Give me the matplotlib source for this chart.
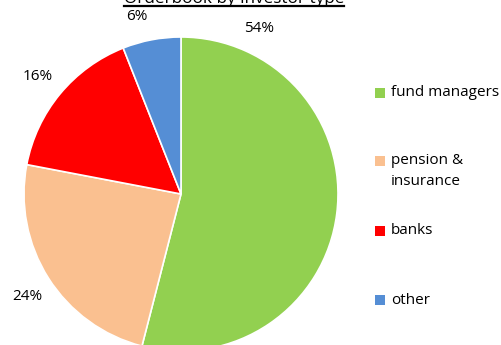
import matplotlib.pyplot as plt
from matplotlib.patches import Rectangle
from matplotlib.lines import Line2D

# investor split of the orderbook (percent)
categories = ["fund managers", "pension &\ninsurance", "banks", "other"]
shares = [54, 24, 16, 6]
colors = ["#92D050", "#FAC090", "#FF0000", "#558ED5"]

W, H = 502, 345
plt.rcParams['font.family'] = ['Open Sans', 'DejaVu Sans']

fig = plt.figure(figsize=(W / 100, H / 100), dpi=100)
ax = fig.add_axes([0, 0, 1, 1])

# pie in pixel-like data units (y measured from bottom)
cx, cy, r = 181, H - 194, 157
ax.pie(shares, colors=colors, startangle=90, counterclock=False,
       center=(cx, cy), radius=r, frame=True,
       wedgeprops=dict(edgecolor='white', linewidth=1.2))
ax.set_xlim(0, W)
ax.set_ylim(0, H)
ax.set_aspect('auto')
ax.set_axis_off()

# percentage labels, placed around the pie
label_pos = [(259, 28), (27, 296), (38, 77), (137, 17)]
for val, (px, py) in zip(shares, label_pos):
    ax.text(px, H - py, f"{val}%", ha='center', va='center', fontsize=11)

# title with underline (top partly off the canvas)
title = ax.text(234, H - 3, "Orderbook by investor type", ha='center',
                va='baseline', fontsize=12.3)
fig.canvas.draw()
bb = title.get_window_extent()
ax.add_line(Line2D([bb.x0, bb.x1], [H - 6, H - 6], color='black', lw=1.6))

# legend drawn as squares + labels
legend_y = [93, 161, 231, 300]
for lab, col, ly in zip(categories, colors, legend_y):
    ax.add_patch(Rectangle((375, H - ly - 5), 10, 10, facecolor=col,
                           edgecolor='none'))
    if '\n' in lab:
        ax.text(391, H - ly + 8, lab, ha='left', va='top', fontsize=11,
                linespacing=1.55)
    else:
        ax.text(391, H - ly, lab, ha='left', va='center', fontsize=11)

fig.savefig("out.png", dpi=100)
